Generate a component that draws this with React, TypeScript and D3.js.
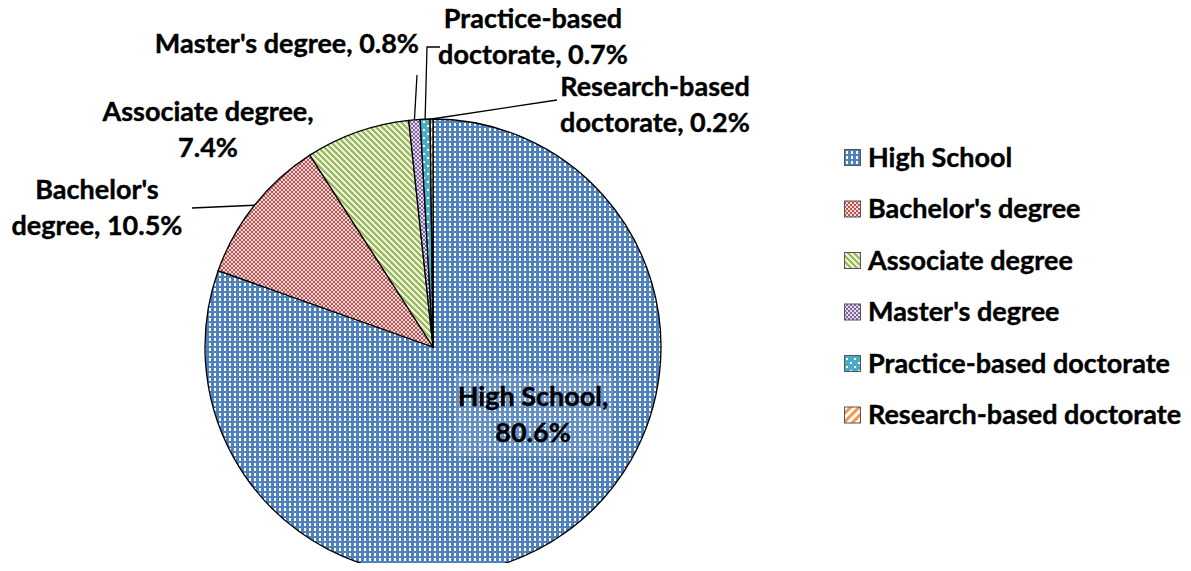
import React from "react";
import * as d3 from "d3";

const categories = [
  "High School",
  "Bachelor's degree",
  "Associate degree",
  "Master's degree",
  "Practice-based doctorate",
  "Research-based doctorate",
];
const shares = [80.6, 10.5, 7.4, 0.8, 0.7, 0.2];
const labelLines = [
  ["High School,", "80.6%"],
  ["Bachelor's", "degree, 10.5%"],
  ["Associate degree,", "7.4%"],
  ["Master's degree, 0.8%"],
  ["Practice-based", "doctorate, 0.7%"],
  ["Research-based", "doctorate, 0.2%"],
];
const patternIds = ["pHS", "pBA", "pAS", "pMA", "pPR", "pRE"];

// label placement (Excel-style manual positions), anchor + leader end
const labelLayout: Record<string, { x: number; y: number; anchor: string; leader?: [number, number][] }> = {
  "High School": { x: 533, y: 397, anchor: "middle" },
  "Bachelor's degree": { x: 97, y: 190, anchor: "middle", leader: [[192, 208]] },
  "Associate degree": { x: 208, y: 112, anchor: "middle" },
  "Master's degree": { x: 419, y: 44, anchor: "end", leader: [[417, 75]] },
  "Practice-based doctorate": { x: 533, y: 19, anchor: "middle", leader: [[427, 47], [440, 47]] },
  "Research-based doctorate": { x: 655, y: 87, anchor: "middle", leader: [[557, 100]] },
};

export default function App() {
  const ref = React.useRef<SVGSVGElement>(null);
  React.useEffect(() => {
    const width = 1191;
    const height = 571;
    const cx = 433;
    const cy = 347;
    const radius = 228;
    const font = "Lato, 'Open Sans', sans-serif";
    const fontSize = 27;

    const svg = d3.select(ref.current);
    svg.selectAll("*").remove();
    svg.attr("width", width).attr("height", height).attr("viewBox", [0, 0, width, height].join(" "));

    const defs = svg.append("defs");
    // High School: blue with white dots
    const p0 = defs.append("pattern").attr("id", "pHS").attr("width", 5).attr("height", 5).attr("patternUnits", "userSpaceOnUse");
    p0.append("rect").attr("width", 5).attr("height", 5).attr("fill", "#4F81BD");
    p0.append("rect").attr("x", 1).attr("y", 1).attr("width", 2).attr("height", 3).attr("fill", "#fff");
    // Bachelor: red checker
    const p1 = defs.append("pattern").attr("id", "pBA").attr("width", 4).attr("height", 4).attr("patternUnits", "userSpaceOnUse");
    p1.append("rect").attr("width", 4).attr("height", 4).attr("fill", "#C0504D");
    p1.append("rect").attr("width", 2).attr("height", 2).attr("fill", "#f2dcdb");
    p1.append("rect").attr("x", 2).attr("y", 2).attr("width", 2).attr("height", 2).attr("fill", "#f2dcdb");
    // Associate: green stair-step diagonal stripes
    const p2 = defs.append("pattern").attr("id", "pAS").attr("width", 6).attr("height", 6).attr("patternUnits", "userSpaceOnUse");
    p2.append("rect").attr("width", 6).attr("height", 6).attr("fill", "#ebf1de");
    d3.range(6).forEach((r) => {
      const w = Math.min(3, 6 - r);
      p2.append("rect").attr("x", r).attr("y", r).attr("width", w).attr("height", 1).attr("fill", "#9BBB59");
      if (w < 3) p2.append("rect").attr("x", 0).attr("y", r).attr("width", 3 - w).attr("height", 1).attr("fill", "#9BBB59");
    });
    // Master: purple checker
    const p3 = defs.append("pattern").attr("id", "pMA").attr("width", 4).attr("height", 4).attr("patternUnits", "userSpaceOnUse");
    p3.append("rect").attr("width", 4).attr("height", 4).attr("fill", "#8064A2");
    p3.append("rect").attr("width", 2).attr("height", 2).attr("fill", "#e3dbec");
    p3.append("rect").attr("x", 2).attr("y", 2).attr("width", 2).attr("height", 2).attr("fill", "#e3dbec");
    // Practice: teal with sparse dots
    const p4 = defs.append("pattern").attr("id", "pPR").attr("width", 8).attr("height", 8).attr("patternUnits", "userSpaceOnUse");
    p4.append("rect").attr("width", 8).attr("height", 8).attr("fill", "#4BACC6");
    p4.append("rect").attr("x", 2).attr("y", 2).attr("width", 2).attr("height", 2).attr("fill", "#fff");
    p4.append("rect").attr("x", 6).attr("y", 6).attr("width", 2).attr("height", 2).attr("fill", "#fff");
    // Research: orange stripes
    const p5 = defs.append("pattern").attr("id", "pRE").attr("width", 6).attr("height", 6).attr("patternUnits", "userSpaceOnUse").attr("patternTransform", "rotate(45)");
    p5.append("rect").attr("width", 6).attr("height", 6).attr("fill", "#fff");
    p5.append("rect").attr("width", 3).attr("height", 6).attr("fill", "#F79646");

    const data = categories.map((c, i) => ({ name: c, value: shares[i], pat: patternIds[i], lines: labelLines[i] }));
    const pie = d3.pie<any>().sort(null).value((d) => d.value);
    const arcs = pie(data);
    const arc = d3.arc<any>().innerRadius(0).outerRadius(radius);
    const edgeArc = d3.arc<any>().innerRadius(radius).outerRadius(radius);

    const g = svg.append("g").attr("transform", `translate(${cx},${cy})`);
    g.selectAll("path")
      .data(arcs)
      .join("path")
      .attr("d", arc)
      .attr("fill", (d) => `url(#${d.data.pat})`)
      .attr("stroke", "#000")
      .attr("stroke-width", 1.3)
      .attr("stroke-linejoin", "round");

    // leader lines
    arcs.forEach((a) => {
      const lay = labelLayout[a.data.name];
      if (!lay.leader) return;
      const [ex, ey] = edgeArc.centroid(a);
      const pts: [number, number][] = [[ex + cx, ey + cy], ...lay.leader];
      svg.append("path")
        .attr("d", d3.line()(pts))
        .attr("fill", "none")
        .attr("stroke", "#000")
        .attr("stroke-width", 1.3);
    });

    // light box behind High School label
    svg.append("rect")
      .attr("x", 455).attr("y", 374).attr("width", 158).attr("height", 82)
      .attr("fill", "#fff").attr("opacity", 0.12);

    // data labels
    arcs.forEach((a) => {
      const lay = labelLayout[a.data.name];
      const t = svg.append("text")
        .attr("x", lay.x)
        .attr("y", lay.y)
        .attr("text-anchor", lay.anchor)
        .attr("font-family", font)
        .attr("font-weight", "bold")
        .attr("font-size", fontSize)
        .attr("fill", "#000")
        .attr("stroke", "#000")
        .attr("stroke-width", 0.4);
      a.data.lines.forEach((l: string, i: number) => {
        t.append("tspan").attr("x", lay.x).attr("dy", i === 0 ? "0.35em" : 36).text(l);
      });
    });

    // legend
    const legendY = d3.scalePoint<string>().domain(categories).range([157.5, 415]);
    const lg = svg.append("g");
    categories.forEach((c, i) => {
      const y = legendY(c)!;
      lg.append("rect")
        .attr("x", 844.5).attr("y", y - 8).attr("width", 16).attr("height", 16)
        .attr("fill", `url(#${patternIds[i]})`)
        .attr("stroke", "#555").attr("stroke-width", 1);
      lg.append("text")
        .attr("x", 868).attr("y", y).attr("dy", "0.35em")
        .attr("font-family", font).attr("font-weight", "bold").attr("font-size", fontSize)
        .attr("stroke", "#000").attr("stroke-width", 0.4)
        .text(c);
    });
  }, []);

  return <svg ref={ref} style={{ display: "block", margin: "-8px" }}></svg>;
}
